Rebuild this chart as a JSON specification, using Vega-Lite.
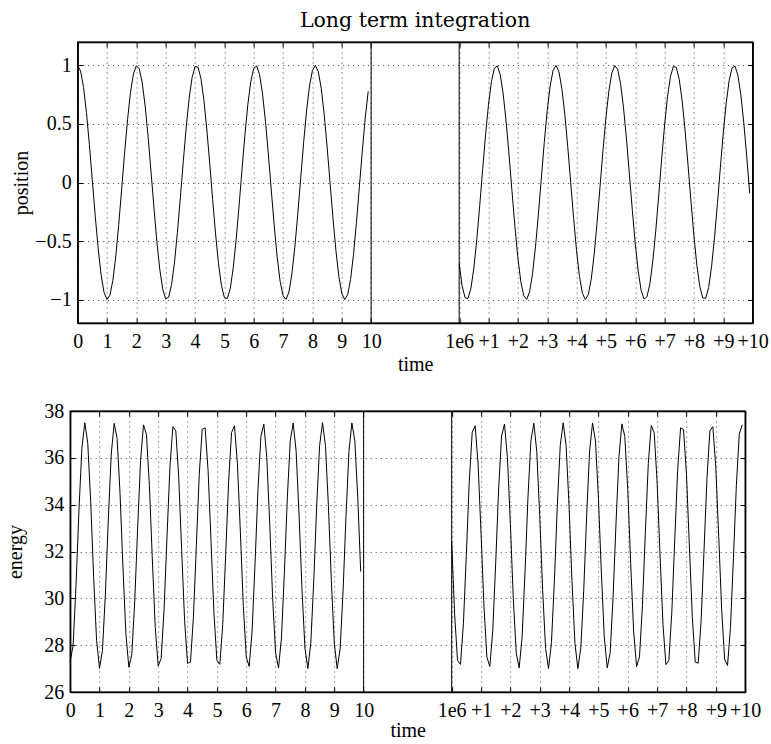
{
  "$schema": "https://vega.github.io/schema/vega-lite/v6.json",
  "background": "white",
  "padding": {"left": 5, "top": 10, "right": 0, "bottom": 0},
  "spacing": 25,
  "columns": 1,
  "center": true,
  "config": {
    "view": {"stroke": "black", "strokeWidth": 1.4},
    "axis": {
      "domainColor": "black", "domainWidth": 1.4,
      "tickColor": "black", "tickSize": -5, "tickWidth": 1,
      "labelFont": "Liberation Serif", "labelFontSize": 20, "labelColor": "black",
      "titleFont": "Liberation Serif", "titleFontSize": 20, "titleFontWeight": "normal", "titleColor": "black",
      "gridColor": "black", "gridDash": [1, 4], "gridOpacity": 0.75, "gridWidth": 1,
      "labelOverlap": false, "labelFlush": false, "labelBound": false
    }
  },
  "datasets": {
    "sim": [
      {"run":"a","time":0,"position":1,"energy":27.3},
      {"run":"a","time":0.1,"position":0.9522,"energy":27.98},
      {"run":"a","time":0.2,"position":0.8133,"energy":30.55},
      {"run":"a","time":0.3,"position":0.5967,"energy":33.76},
      {"run":"a","time":0.4,"position":0.3229,"energy":36.41},
      {"run":"a","time":0.5,"position":0.0183,"energy":37.5},
      {"run":"a","time":0.6,"position":-0.2881,"energy":36.63},
      {"run":"a","time":0.7,"position":-0.5669,"energy":34.13},
      {"run":"a","time":0.8,"position":-0.7915,"energy":30.92},
      {"run":"a","time":0.9,"position":-0.9404,"energy":28.21},
      {"run":"a","time":1.0,"position":-0.9993,"energy":27.01},
      {"run":"a","time":1.1,"position":-0.9627,"energy":27.77},
      {"run":"a","time":1.2,"position":-0.8361,"energy":30.16},
      {"run":"a","time":1.3,"position":-0.6283,"energy":33.35},
      {"run":"a","time":1.4,"position":-0.3578,"energy":36.16},
      {"run":"a","time":1.5,"position":-0.0548,"energy":37.47},
      {"run":"a","time":1.6,"position":0.2530,"energy":36.83},
      {"run":"a","time":1.7,"position":0.5366,"energy":34.48},
      {"run":"a","time":1.8,"position":0.7686,"energy":31.30},
      {"run":"a","time":1.9,"position":0.9272,"energy":28.47},
      {"run":"a","time":2.0,"position":0.9973,"energy":27.06},
      {"run":"a","time":2.1,"position":0.9720,"energy":27.58},
      {"run":"a","time":2.2,"position":0.8537,"energy":29.85},
      {"run":"a","time":2.3,"position":0.6539,"energy":33.01},
      {"run":"a","time":2.4,"position":0.3918,"energy":35.89},
      {"run":"a","time":2.5,"position":0.0914,"energy":37.41},
      {"run":"a","time":2.6,"position":-0.2172,"energy":37.00},
      {"run":"a","time":2.7,"position":-0.5055,"energy":34.82},
      {"run":"a","time":2.8,"position":-0.7446,"energy":31.68},
      {"run":"a","time":2.9,"position":-0.9125,"energy":28.76},
      {"run":"a","time":3.0,"position":-0.9948,"energy":27.11},
      {"run":"a","time":3.1,"position":-0.9794,"energy":27.43},
      {"run":"a","time":3.2,"position":-0.8718,"energy":29.52},
      {"run":"a","time":3.3,"position":-0.6816,"energy":32.62},
      {"run":"a","time":3.4,"position":-0.4250,"energy":35.60},
      {"run":"a","time":3.5,"position":-0.1275,"energy":37.33},
      {"run":"a","time":3.6,"position":0.1819,"energy":37.15},
      {"run":"a","time":3.7,"position":0.4735,"energy":35.15},
      {"run":"a","time":3.8,"position":0.7206,"energy":32.05},
      {"run":"a","time":3.9,"position":0.8973,"energy":29.05},
      {"run":"a","time":4.0,"position":0.9893,"energy":27.22},
      {"run":"a","time":4.1,"position":0.9866,"energy":27.28},
      {"run":"a","time":4.2,"position":0.8895,"energy":29.19},
      {"run":"a","time":4.3,"position":0.7073,"energy":32.25},
      {"run":"a","time":4.4,"position":0.4575,"energy":35.30},
      {"run":"a","time":4.5,"position":0.1639,"energy":37.22},
      {"run":"a","time":4.6,"position":-0.1452,"energy":37.28},
      {"run":"a","time":4.7,"position":-0.4405,"energy":35.46},
      {"run":"a","time":4.8,"position":-0.6946,"energy":32.43},
      {"run":"a","time":4.9,"position":-0.8806,"energy":29.36},
      {"run":"a","time":5.0,"position":-0.9833,"energy":27.35},
      {"run":"a","time":5.1,"position":-0.9916,"energy":27.18},
      {"run":"a","time":5.2,"position":-0.9054,"energy":28.89},
      {"run":"a","time":5.3,"position":-0.7317,"energy":31.88},
      {"run":"a","time":5.4,"position":-0.4899,"energy":34.98},
      {"run":"a","time":5.5,"position":-0.2002,"energy":37.08},
      {"run":"a","time":5.6,"position":0.1092,"energy":37.37},
      {"run":"a","time":5.7,"position":0.4095,"energy":35.74},
      {"run":"a","time":5.8,"position":0.6671,"energy":32.83},
      {"run":"a","time":5.9,"position":0.8627,"energy":29.69},
      {"run":"a","time":6.0,"position":0.9760,"energy":27.50},
      {"run":"a","time":6.1,"position":0.9959,"energy":27.09},
      {"run":"a","time":6.2,"position":0.9205,"energy":28.60},
      {"run":"a","time":6.3,"position":0.7571,"energy":31.48},
      {"run":"a","time":6.4,"position":0.5210,"energy":34.65},
      {"run":"a","time":6.5,"position":0.2357,"energy":36.92},
      {"run":"a","time":6.6,"position":-0.0725,"energy":37.44},
      {"run":"a","time":6.7,"position":-0.3743,"energy":36.03},
      {"run":"a","time":6.8,"position":-0.6398,"energy":33.20},
      {"run":"a","time":6.9,"position":-0.8453,"energy":30.00},
      {"run":"a","time":7.0,"position":-0.9674,"energy":27.67},
      {"run":"a","time":7.1,"position":-0.9988,"energy":27.03},
      {"run":"a","time":7.2,"position":-0.9355,"energy":28.31},
      {"run":"a","time":7.3,"position":-0.7803,"energy":31.11},
      {"run":"a","time":7.4,"position":-0.5530,"energy":34.29},
      {"run":"a","time":7.5,"position":-0.2723,"energy":36.72},
      {"run":"a","time":7.6,"position":0.0359,"energy":37.49},
      {"run":"a","time":7.7,"position":0.3404,"energy":36.28},
      {"run":"a","time":7.8,"position":0.6125,"energy":33.56},
      {"run":"a","time":7.9,"position":0.8237,"energy":30.38},
      {"run":"a","time":8.0,"position":0.9574,"energy":27.88},
      {"run":"a","time":8.1,"position":0.9998,"energy":27.00},
      {"run":"a","time":8.2,"position":0.9466,"energy":28.09},
      {"run":"a","time":8.3,"position":0.8030,"energy":30.73},
      {"run":"a","time":8.4,"position":0.5821,"energy":33.94},
      {"run":"a","time":8.5,"position":0.3049,"energy":36.52},
      {"run":"a","time":8.6,"position":0.0006,"energy":37.50},
      {"run":"a","time":8.7,"position":-0.3050,"energy":36.52},
      {"run":"a","time":8.8,"position":-0.5813,"energy":33.95},
      {"run":"a","time":8.9,"position":-0.8018,"energy":30.75},
      {"run":"a","time":9.0,"position":-0.9468,"energy":28.09},
      {"run":"a","time":9.1,"position":-0.9999,"energy":27.00},
      {"run":"a","time":9.2,"position":-0.9584,"energy":27.86},
      {"run":"a","time":9.3,"position":-0.8265,"energy":30.33},
      {"run":"a","time":9.4,"position":-0.6143,"energy":33.54},
      {"run":"a","time":9.5,"position":-0.3411,"energy":36.28},
      {"run":"a","time":9.6,"position":-0.0372,"energy":37.49},
      {"run":"a","time":9.7,"position":0.2700,"energy":36.73},
      {"run":"a","time":9.8,"position":0.5516,"energy":34.31},
      {"run":"a","time":9.9,"position":0.7785,"energy":31.14},
      {"run":"b","time":1000000,"position":-0.6956,"energy":32.42},
      {"run":"b","time":1000000.1,"position":-0.8817,"energy":29.34},
      {"run":"b","time":1000000.2,"position":-0.9837,"energy":27.34},
      {"run":"b","time":1000000.3,"position":-0.9916,"energy":27.18},
      {"run":"b","time":1000000.4,"position":-0.9047,"energy":28.91},
      {"run":"b","time":1000000.5,"position":-0.7313,"energy":31.88},
      {"run":"b","time":1000000.6,"position":-0.4887,"energy":34.99},
      {"run":"b","time":1000000.7,"position":-0.1978,"energy":37.09},
      {"run":"b","time":1000000.8,"position":0.1112,"energy":37.37},
      {"run":"b","time":1000000.9,"position":0.4095,"energy":35.74},
      {"run":"b","time":1000001.0,"position":0.6687,"energy":32.80},
      {"run":"b","time":1000001.1,"position":0.8637,"energy":29.67},
      {"run":"b","time":1000001.2,"position":0.9765,"energy":27.49},
      {"run":"b","time":1000001.3,"position":0.9957,"energy":27.09},
      {"run":"b","time":1000001.4,"position":0.9196,"energy":28.62},
      {"run":"b","time":1000001.5,"position":0.7557,"energy":31.50},
      {"run":"b","time":1000001.6,"position":0.5193,"energy":34.67},
      {"run":"b","time":1000001.7,"position":0.2335,"energy":36.93},
      {"run":"b","time":1000001.8,"position":-0.0748,"energy":37.44},
      {"run":"b","time":1000001.9,"position":-0.3764,"energy":36.01},
      {"run":"b","time":1000002.0,"position":-0.6415,"energy":33.18},
      {"run":"b","time":1000002.1,"position":-0.8461,"energy":29.98},
      {"run":"b","time":1000002.2,"position":-0.9679,"energy":27.66},
      {"run":"b","time":1000002.3,"position":-0.9984,"energy":27.03},
      {"run":"b","time":1000002.4,"position":-0.9334,"energy":28.35},
      {"run":"b","time":1000002.5,"position":-0.7787,"energy":31.13},
      {"run":"b","time":1000002.6,"position":-0.5504,"energy":34.32},
      {"run":"b","time":1000002.7,"position":-0.2699,"energy":36.74},
      {"run":"b","time":1000002.8,"position":0.0382,"energy":37.48},
      {"run":"b","time":1000002.9,"position":0.3425,"energy":36.27},
      {"run":"b","time":1000003.0,"position":0.6142,"energy":33.54},
      {"run":"b","time":1000003.1,"position":0.8249,"energy":30.35},
      {"run":"b","time":1000003.2,"position":0.9581,"energy":27.86},
      {"run":"b","time":1000003.3,"position":0.9998,"energy":27.00},
      {"run":"b","time":1000003.4,"position":0.9459,"energy":28.11},
      {"run":"b","time":1000003.5,"position":0.8016,"energy":30.75},
      {"run":"b","time":1000003.6,"position":0.5803,"energy":33.96},
      {"run":"b","time":1000003.7,"position":0.3043,"energy":36.53},
      {"run":"b","time":1000003.8,"position":-0.0016,"energy":37.50},
      {"run":"b","time":1000003.9,"position":-0.3071,"energy":36.51},
      {"run":"b","time":1000004.0,"position":-0.5830,"energy":33.93},
      {"run":"b","time":1000004.1,"position":-0.8030,"energy":30.73},
      {"run":"b","time":1000004.2,"position":-0.9470,"energy":28.08},
      {"run":"b","time":1000004.3,"position":-0.9999,"energy":27.00},
      {"run":"b","time":1000004.4,"position":-0.9571,"energy":27.88},
      {"run":"b","time":1000004.5,"position":-0.8253,"energy":30.35},
      {"run":"b","time":1000004.6,"position":-0.6127,"energy":33.56},
      {"run":"b","time":1000004.7,"position":-0.3390,"energy":36.29},
      {"run":"b","time":1000004.8,"position":-0.0350,"energy":37.49},
      {"run":"b","time":1000004.9,"position":0.2722,"energy":36.72},
      {"run":"b","time":1000005.0,"position":0.5534,"energy":34.28},
      {"run":"b","time":1000005.1,"position":0.7797,"energy":31.12},
      {"run":"b","time":1000005.2,"position":0.9330,"energy":28.36},
      {"run":"b","time":1000005.3,"position":0.9986,"energy":27.03},
      {"run":"b","time":1000005.4,"position":0.9671,"energy":27.68},
      {"run":"b","time":1000005.5,"position":0.8431,"energy":30.04},
      {"run":"b","time":1000005.6,"position":0.6387,"energy":33.22},
      {"run":"b","time":1000005.7,"position":0.3731,"energy":36.04},
      {"run":"b","time":1000005.8,"position":0.0715,"energy":37.45},
      {"run":"b","time":1000005.9,"position":-0.2366,"energy":36.91},
      {"run":"b","time":1000006.0,"position":-0.5220,"energy":34.64},
      {"run":"b","time":1000006.1,"position":-0.7573,"energy":31.48},
      {"run":"b","time":1000006.2,"position":-0.9208,"energy":28.60},
      {"run":"b","time":1000006.3,"position":-0.9960,"energy":27.08},
      {"run":"b","time":1000006.4,"position":-0.9757,"energy":27.50},
      {"run":"b","time":1000006.5,"position":-0.8623,"energy":29.69},
      {"run":"b","time":1000006.6,"position":-0.6675,"energy":32.82},
      {"run":"b","time":1000006.7,"position":-0.4074,"energy":35.76},
      {"run":"b","time":1000006.8,"position":-0.1079,"energy":37.38},
      {"run":"b","time":1000006.9,"position":0.2012,"energy":37.08},
      {"run":"b","time":1000007.0,"position":0.4905,"energy":34.97},
      {"run":"b","time":1000007.1,"position":0.7336,"energy":31.85},
      {"run":"b","time":1000007.2,"position":0.9060,"energy":28.88},
      {"run":"b","time":1000007.3,"position":0.9920,"energy":27.17},
      {"run":"b","time":1000007.4,"position":0.9831,"energy":27.35},
      {"run":"b","time":1000007.5,"position":0.8802,"energy":29.37},
      {"run":"b","time":1000007.6,"position":0.6931,"energy":32.46},
      {"run":"b","time":1000007.7,"position":0.4398,"energy":35.47},
      {"run":"b","time":1000007.8,"position":0.1443,"energy":37.28},
      {"run":"b","time":1000007.9,"position":-0.1650,"energy":37.21},
      {"run":"b","time":1000008.0,"position":-0.4578,"energy":35.30},
      {"run":"b","time":1000008.1,"position":-0.7087,"energy":32.23},
      {"run":"b","time":1000008.2,"position":-0.8898,"energy":29.19},
      {"run":"b","time":1000008.3,"position":-0.9867,"energy":27.28},
      {"run":"b","time":1000008.4,"position":-0.9892,"energy":27.23},
      {"run":"b","time":1000008.5,"position":-0.8967,"energy":29.06},
      {"run":"b","time":1000008.6,"position":-0.7172,"energy":32.10},
      {"run":"b","time":1000008.7,"position":-0.4724,"energy":35.16},
      {"run":"b","time":1000008.8,"position":-0.1807,"energy":37.16},
      {"run":"b","time":1000008.9,"position":0.1288,"energy":37.33},
      {"run":"b","time":1000009.0,"position":0.4269,"energy":35.59},
      {"run":"b","time":1000009.1,"position":0.6812,"energy":32.63},
      {"run":"b","time":1000009.2,"position":0.8722,"energy":29.51},
      {"run":"b","time":1000009.3,"position":0.9801,"energy":27.41},
      {"run":"b","time":1000009.4,"position":0.9939,"energy":27.13},
      {"run":"b","time":1000009.5,"position":0.9126,"energy":28.76},
      {"run":"b","time":1000009.6,"position":0.7439,"energy":31.69},
      {"run":"b","time":1000009.7,"position":0.5052,"energy":34.82},
      {"run":"b","time":1000009.8,"position":0.2160,"energy":37.01},
      {"run":"b","time":1000009.9,"position":-0.0924,"energy":37.41}
    ],
    "breaks": [{"b": 10}, {"b": 13}]
  },
  "concat": [
    {
      "width": 675,
      "height": 281,
      "title": {"text": "Long term integration", "font": "DejaVu Serif", "fontSize": 20.5, "fontWeight": "normal", "color": "black", "anchor": "middle", "frame": "group", "baseline": "alphabetic", "offset": -6},
      "resolve": {"axis": {"x": "independent", "y": "independent"}},
      "layer": [
        {
          "data": {"name": "sim"},
          "transform": [{"calculate": "datum.time >= 1000000 ? datum.time - 999987 : datum.time", "as": "xpos"}],
          "mark": {"type": "line", "color": "black", "strokeWidth": 1},
          "encoding": {
            "x": {"field": "xpos", "type": "quantitative", "scale": {"domain": [0, 23], "nice": false, "zero": false},
              "axis": {"orient": "bottom", "values": [0,1,2,3,4,5,6,7,8,9,10,13,14,15,16,17,18,19,20,21,22,23],
                "labelExpr": "datum.value <= 10 ? datum.value : (datum.value == 13 ? '1e6' : '+' + (datum.value - 13))",
                "grid": true, "labelBaseline": "alphabetic", "labelPadding": 29.5,
                "title": "time", "titleBaseline": "alphabetic", "titleY": 47}},
            "y": {"field": "position", "type": "quantitative", "scale": {"domain": [-1.2, 1.2], "nice": false, "zero": false},
              "axis": {"orient": "left", "values": [-1, -0.5, 0, 0.5, 1], "format": "~g", "grid": true, "labelPadding": 11.5,
                "title": "position", "titleX": -49.8, "titleY": 140.5, "titleBaseline": "alphabetic", "titleAngle": 270}},
            "detail": {"field": "run"}
          }
        },
        {
          "data": {"name": "sim"},
          "transform": [{"calculate": "datum.time >= 1000000 ? datum.time - 999987 : datum.time", "as": "xpos"}],
          "mark": {"type": "line", "opacity": 0},
          "encoding": {
            "x": {"field": "xpos", "type": "quantitative", "scale": {"domain": [0, 23], "nice": false, "zero": false},
              "axis": {"orient": "top", "values": [0,1,2,3,4,5,6,7,8,9,10,13,14,15,16,17,18,19,20,21,22,23], "labels": false, "grid": false, "title": null}},
            "y": {"field": "position", "type": "quantitative", "scale": {"domain": [-1.2, 1.2], "nice": false, "zero": false},
              "axis": {"orient": "right", "values": [-1, -0.5, 0, 0.5, 1], "labels": false, "grid": false, "title": null, "minExtent": 20, "maxExtent": 20}},
            "detail": {"field": "run"}
          }
        },
        {
          "data": {"name": "breaks"},
          "mark": {"type": "rule", "color": "black", "strokeWidth": 1},
          "encoding": {
            "x": {"field": "b", "type": "quantitative", "scale": {"domain": [0, 23], "nice": false, "zero": false}, "axis": null}
          }
        }
      ]
    },
    {
      "width": 675,
      "height": 281,
      "resolve": {"axis": {"x": "independent", "y": "independent"}},
      "layer": [
        {
          "data": {"name": "sim"},
          "transform": [{"calculate": "datum.time >= 1000000 ? datum.time - 999987 : datum.time", "as": "xpos"}],
          "mark": {"type": "line", "color": "black", "strokeWidth": 1},
          "encoding": {
            "x": {"field": "xpos", "type": "quantitative", "scale": {"domain": [0, 23], "nice": false, "zero": false},
              "axis": {"orient": "bottom", "values": [0,1,2,3,4,5,6,7,8,9,10,13,14,15,16,17,18,19,20,21,22,23],
                "labelExpr": "datum.value <= 10 ? datum.value : (datum.value == 13 ? '1e6' : '+' + (datum.value - 13))",
                "grid": true, "labelBaseline": "alphabetic", "labelPadding": 29,
                "title": "time", "titleBaseline": "alphabetic", "titleY": 44.5}},
            "y": {"field": "energy", "type": "quantitative", "scale": {"domain": [26, 38], "nice": false, "zero": false},
              "axis": {"orient": "left", "values": [26, 28, 30, 32, 34, 36, 38], "format": "d", "grid": true, "labelPadding": 11.5,
                "title": "energy", "titleX": -48.3, "titleY": 140.5, "titleBaseline": "alphabetic", "titleAngle": 270}},
            "detail": {"field": "run"}
          }
        },
        {
          "data": {"name": "sim"},
          "transform": [{"calculate": "datum.time >= 1000000 ? datum.time - 999987 : datum.time", "as": "xpos"}],
          "mark": {"type": "line", "opacity": 0},
          "encoding": {
            "x": {"field": "xpos", "type": "quantitative", "scale": {"domain": [0, 23], "nice": false, "zero": false},
              "axis": {"orient": "top", "values": [0,1,2,3,4,5,6,7,8,9,10,13,14,15,16,17,18,19,20,21,22,23], "labels": false, "grid": false, "title": null}},
            "y": {"field": "energy", "type": "quantitative", "scale": {"domain": [26, 38], "nice": false, "zero": false},
              "axis": {"orient": "right", "values": [26, 28, 30, 32, 34, 36, 38], "labels": false, "grid": false, "title": null, "minExtent": 35, "maxExtent": 35}},
            "detail": {"field": "run"}
          }
        },
        {
          "data": {"name": "breaks"},
          "mark": {"type": "rule", "color": "black", "strokeWidth": 1},
          "encoding": {
            "x": {"field": "b", "type": "quantitative", "scale": {"domain": [0, 23], "nice": false, "zero": false}, "axis": null}
          }
        }
      ]
    }
  ]
}
